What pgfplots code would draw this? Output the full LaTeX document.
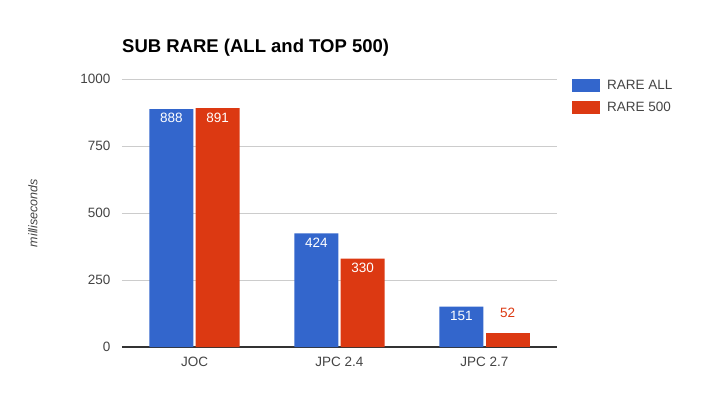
\documentclass[border=0pt]{standalone}
\usepackage{pgfplots}
\pgfplotsset{compat=1.18}
\usepackage{fontspec}
\setmainfont{Liberation Sans}
\definecolor{gblue}{HTML}{3366CC}
\definecolor{gred}{HTML}{DC3912}
\definecolor{gtext}{HTML}{444444}
\definecolor{ggrid}{HTML}{CCCCCC}
\definecolor{gbase}{HTML}{333333}
\newcommand{\fs}{\fontsize{13.5}{15}\selectfont}
\begin{document}
\begin{tikzpicture}[x=1pt,y=1pt]
\useasboundingbox (-122,-62) rectangle (581,347);
\begin{axis}[at={(0,0)}, anchor=south west, scale only axis,
  width=435pt, height=268pt,
  xmin=-0.5, xmax=2.5, ymin=0, ymax=1000,
  axis line style={draw=none},
  major tick length=0pt,
  xtick={0,1,2}, xticklabels={JOC,JPC 2.4,JPC 2.7},
  ytick={250,500,750,1000},
  extra y ticks={0},
  extra y tick style={grid style={color=gbase, line width=1.2pt}},
  ymajorgrids, grid style={color=ggrid, line width=0.8pt},
  xticklabel style={font=\fs, text=gtext, yshift=-7pt},
  yticklabel style={font=\fs, text=gtext, xshift=-8pt},
  /pgf/number format/assume math mode=true,
  /pgf/number format/1000 sep={},
  title={\bfseries SUB RARE (ALL and TOP 500)},
  title style={font=\fontsize{18.5}{20}\selectfont, at={(rel axis cs:0,1)}, anchor=base west, yshift=20pt, inner sep=0pt},
  ylabel={milliseconds},
  every axis y label/.style={at={([xshift=-89pt]rel axis cs:0,0.5)}, rotate=90, anchor=center, font=\itshape\fontsize{12.5}{14}\selectfont, text=gtext},
  legend style={at={(rel axis cs:1,1)}, anchor=north west, xshift=15pt, yshift=1pt, draw=none, fill=none, inner sep=0pt, font=\fs, text=gtext, row sep=7.5pt,
    /tikz/every odd column/.append style={column sep=5pt}},
  legend cell align=left,
  legend image code/.code={\fill[#1] (-4pt,-6.5pt) rectangle (24pt,6.5pt);},
]
\addplot[ybar, bar width=0.303, bar shift=-0.159, fill=gblue, draw=none,
  nodes near coords, every node near coord/.append style={anchor=north, text=white, font=\fs, yshift=-1pt, shift={(axis direction cs:-0.159,0)}}]
  coordinates {(0,888) (1,424) (2,151)};
\addlegendentry{RARE ALL}
\addplot[ybar, bar width=0.303, bar shift=0.159, fill=gred, draw=none,
  nodes near coords, every node near coord/.append style={anchor=north, text=white, font=\fs, yshift=-1pt, shift={(axis direction cs:0.159,0)}}]
  coordinates {(0,891) (1,330)};
\addlegendentry{RARE 500}
\addplot[ybar, bar width=0.303, bar shift=0.159, fill=gred, draw=none, forget plot,
  nodes near coords, every node near coord/.append style={anchor=south, text=gred, font=\fs, yshift=11.5pt, shift={(axis direction cs:0.159,0)}}]
  coordinates {(2,52)};
\end{axis}
\end{tikzpicture}
\end{document}
